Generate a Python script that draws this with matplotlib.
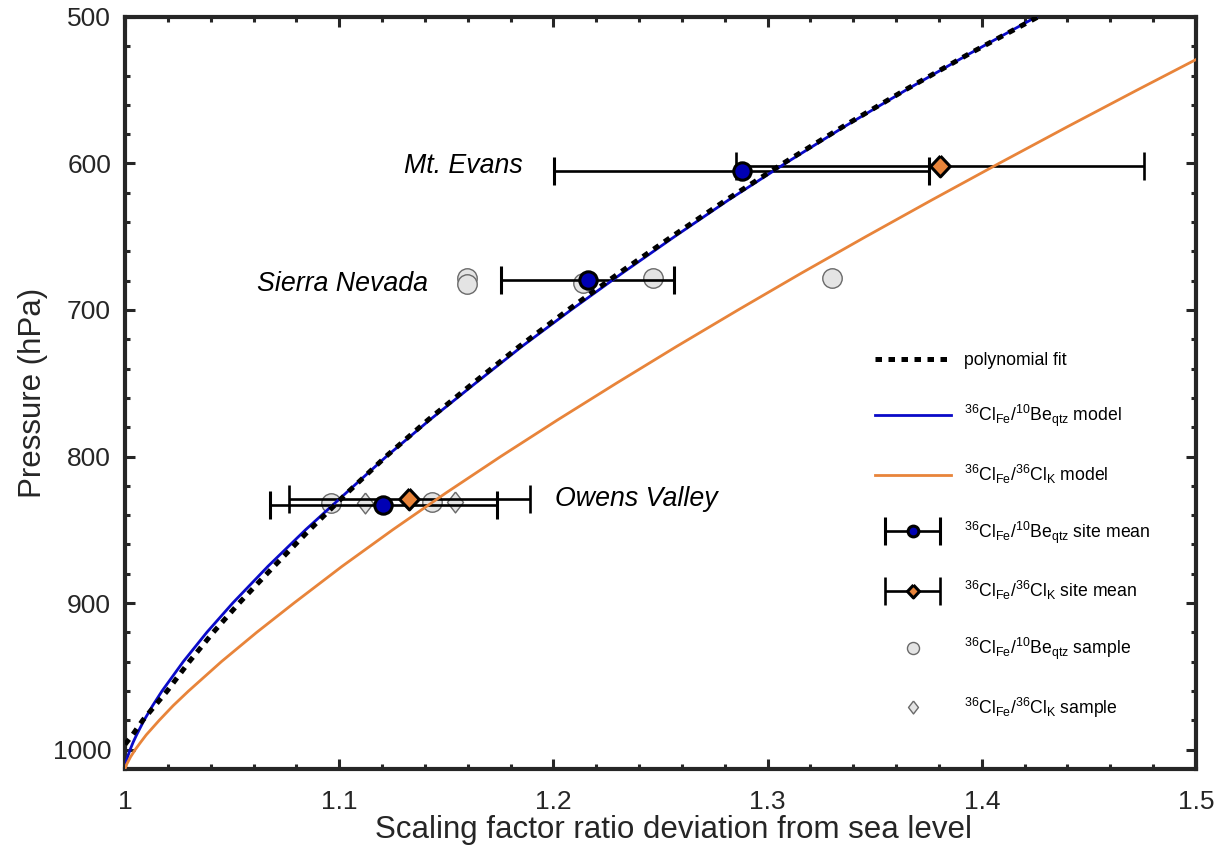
import matplotlib
matplotlib.use("Agg")
import matplotlib.pyplot as plt
from matplotlib.container import ErrorbarContainer
from matplotlib.legend_handler import HandlerErrorbar
from matplotlib.ticker import MultipleLocator

plt.rcParams['font.family'] = ['Liberation Sans', 'DejaVu Sans']
plt.rcParams['mathtext.fontset'] = 'custom'
plt.rcParams['mathtext.rm'] = 'Liberation Sans'
plt.rcParams['mathtext.it'] = 'Liberation Sans:italic'
plt.rcParams['mathtext.bf'] = 'Liberation Sans:bold'

# ---------------- data ----------------
# pressure levels (hPa) at which the model curves were read
model_p = [1013.25, 1010, 1005, 1000, 995, 990, 980, 970, 960, 940, 920, 900, 875,
           850, 825, 800, 775, 750, 725, 700, 675, 650, 625, 600, 575, 550, 525, 500]

# 36Cl_Fe / 10Be_qtz model curve
be_model_x = [1.0000, 1.0003, 1.0012, 1.0024, 1.0038, 1.0054, 1.0089, 1.0129, 1.0173,
              1.0272, 1.0382, 1.0503, 1.0667, 1.0843, 1.1031, 1.1220, 1.1423, 1.1636,
              1.1852, 1.2082, 1.2320, 1.2565, 1.2817, 1.3082, 1.3357, 1.3645, 1.3944,
              1.4254]

# 36Cl_Fe / 36Cl_K model curve
cl_model_x = [1.0000, 1.0008, 1.0026, 1.0048, 1.0073, 1.0099, 1.0160, 1.0225, 1.0297,
              1.0450, 1.0615, 1.0789, 1.1013, 1.1250, 1.1497, 1.1754, 1.2020, 1.2294,
              1.2574, 1.2862, 1.3156, 1.3458, 1.3766, 1.4080, 1.4399, 1.4724, 1.5054,
              1.5390]

# polynomial fit
poly_p = [996.5, 990, 980, 970, 960, 940, 920, 900, 875, 850, 825, 800, 775,
          750, 725, 700, 675, 650, 625, 600, 575, 550, 525, 500]
poly_x = [1.0000, 1.0035, 1.0083, 1.0140, 1.0197, 1.0300, 1.0412, 1.0533, 1.0695,
          1.0862, 1.1036, 1.1218, 1.1415, 1.1625, 1.1840, 1.2068, 1.2305, 1.2552,
          1.2806, 1.3072, 1.3350, 1.3640, 1.3943, 1.4262]

# site names
site_names = ['Mt. Evans', 'Sierra Nevada', 'Owens Valley']

# 36Cl_Fe/10Be_qtz site means (Mt. Evans, Sierra Nevada, Owens Valley)
be_mean_x = [1.2880, 1.2160, 1.1206]
be_mean_p = [605.0, 679.6, 832.8]
be_mean_err = [0.0875, 0.0403, 0.0531]

# 36Cl_Fe/36Cl_K site means (Mt. Evans, Owens Valley)
cl_mean_x = [1.3805, 1.1328]
cl_mean_p = [601.7, 829.3]
cl_mean_err = [0.0952, 0.0563]

# individual samples
be_sample_x = [1.1595, 1.1595, 1.2140, 1.2467, 1.3303, 1.0962, 1.1432]
be_sample_p = [678.3, 682.3, 681.9, 678.4, 678.0, 831.6, 831.0]
cl_sample_x = [1.1120, 1.1541]
cl_sample_p = [831.6, 831.0]

# ---------------- style ----------------
BLUE = '#0a0ac8'
BLUE_FACE = '#0000b4'
ORANGE = '#e8843a'
GRAY_FACE = '#e4e4e4'
GRAY_EDGE = '#6a6a6a'
AX_COLOR = '#262626'

tall_diamond = [(0, 1), (0.77, 0), (0, -1), (-0.77, 0), (0, 1)]
diamond = [(0, 1), (0.94, 0), (0, -1), (-0.94, 0), (0, 1)]

fig = plt.figure(figsize=(12.22, 8.51), dpi=100)
ax = fig.add_axes([0.1023, 0.0964, 0.8764, 0.8837])

# samples
h_be_s, = ax.plot(be_sample_x, be_sample_p, linestyle='none', marker='o', ms=14,
                  mfc=GRAY_FACE, mec=GRAY_EDGE, mew=1.0, zorder=2)
h_cl_s, = ax.plot(cl_sample_x, cl_sample_p, linestyle='none', marker=tall_diamond,
                  ms=15, mfc=GRAY_FACE, mec=GRAY_EDGE, mew=1.0, zorder=2)

# site means with error bars
h_be_m = ax.errorbar(be_mean_x, be_mean_p, xerr=be_mean_err, fmt='o', ms=12.5,
                     mfc=BLUE_FACE, mec='black', mew=2.2, ecolor='black',
                     elinewidth=1.9, capsize=10, capthick=1.9, zorder=3)
h_cl_e = ax.errorbar(cl_mean_x, cl_mean_p, xerr=cl_mean_err, fmt='none',
                     ecolor='black', elinewidth=1.9, capsize=10, capthick=1.9,
                     zorder=3)
h_cl_mk, = ax.plot(cl_mean_x, cl_mean_p, linestyle='none', marker=diamond, ms=15,
                   mfc=ORANGE, mec='black', mew=2.2, zorder=3.5)
h_cl_m = ErrorbarContainer((h_cl_mk, h_cl_e.lines[1], h_cl_e.lines[2]),
                           has_xerr=True, has_yerr=False)

# model curves
h_be, = ax.plot(be_model_x, model_p, color=BLUE, lw=2.0, zorder=4)
h_cl, = ax.plot(cl_model_x, model_p, color=ORANGE, lw=2.0, zorder=4)
h_poly, = ax.plot(poly_x, poly_p, color='black', lw=3.6, linestyle=(0, (1.3, 1.3)),
                  dash_capstyle='butt', zorder=5)

# site labels
ax.text(1.1858, 601.7, site_names[0], style='italic', fontsize=19.3,
        ha='right', va='center', color='black')
ax.text(1.1415, 682.3, site_names[1], style='italic', fontsize=19.3,
        ha='right', va='center', color='black')
ax.text(1.2007, 829.0, site_names[2], style='italic', fontsize=19.3,
        ha='left', va='center', color='black')

# axes setup
ax.set_xlim(1.0, 1.5)
ax.set_ylim(1013.25, 500)
ax.xaxis.set_minor_locator(MultipleLocator(0.02))
ax.yaxis.set_major_locator(MultipleLocator(100))
ax.yaxis.set_minor_locator(MultipleLocator(20))
ax.set_xticks([1.0, 1.1, 1.2, 1.3, 1.4, 1.5])
ax.set_xticklabels(['1', '1.1', '1.2', '1.3', '1.4', '1.5'])

ax.tick_params(which='both', direction='in', top=True, right=True,
               color=AX_COLOR, width=2.2, labelcolor=AX_COLOR, labelsize=19)
ax.tick_params(which='major', length=7)
ax.tick_params(which='minor', length=3.5)
ax.tick_params(axis='x', which='major', pad=15)
ax.tick_params(axis='y', which='major', pad=10)
for sp in ax.spines.values():
    sp.set_linewidth(3.0)
    sp.set_color(AX_COLOR)

ax.set_xlabel('Scaling factor ratio deviation from sea level', fontsize=22.5,
              color=AX_COLOR)
ax.xaxis.set_label_coords(0.512, -0.061, transform=ax.transAxes)
ax.xaxis.label.set_va('top')
ax.set_ylabel('Pressure (hPa)', fontsize=22.5, color=AX_COLOR, labelpad=3)

# legend
lab_be = r'$^{36}$Cl$_{\mathrm{Fe}}$/$^{10}$Be$_{\mathrm{qtz}}$'
lab_cl = r'$^{36}$Cl$_{\mathrm{Fe}}$/$^{36}$Cl$_{\mathrm{K}}$'
handles = [h_poly, h_be, h_cl, h_be_m, h_cl_m, h_be_s, h_cl_s]
labels = ['polynomial fit', lab_be + ' model', lab_cl + ' model',
          lab_be + ' site mean', lab_cl + ' site mean',
          lab_be + ' sample', lab_cl + ' sample']
leg = ax.legend(handles, labels, loc='upper left', bbox_to_anchor=(0.700, 0.554),
                frameon=False, fontsize=12.7, handlelength=4.3, handletextpad=0.75,
                labelspacing=1.9, borderpad=0, borderaxespad=0, markerscale=0.62,
                handler_map={ErrorbarContainer: HandlerErrorbar(xerr_size=1.55)})

fig.savefig('out.png', dpi=100)
